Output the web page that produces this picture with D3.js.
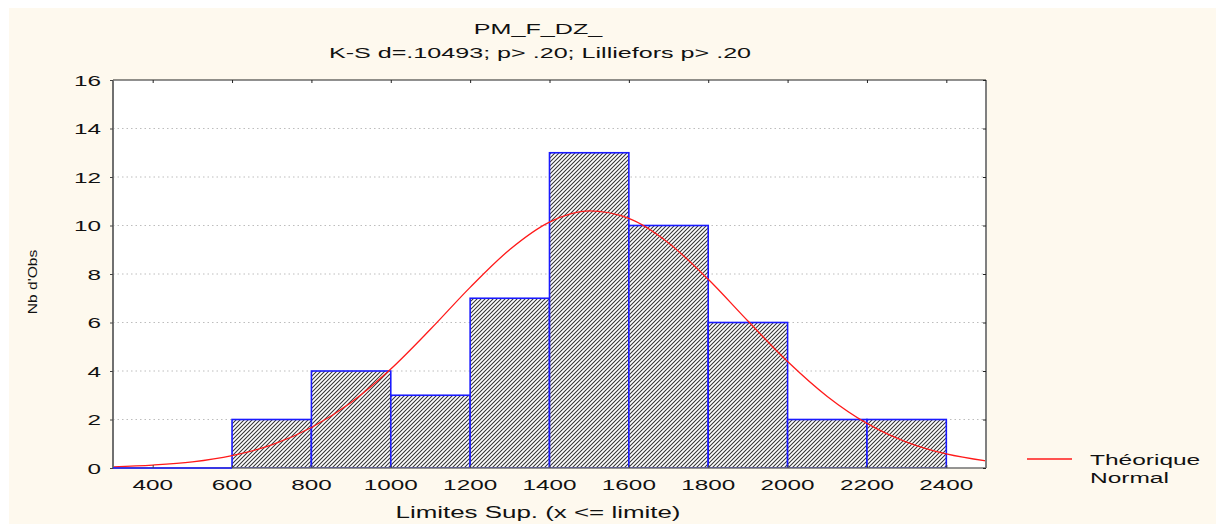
<!DOCTYPE html>
<html><head><meta charset="utf-8">
<script src="https://cdn.jsdelivr.net/npm/d3@7"></script>
<style>body{margin:0;background:#fff}svg{display:block}text{font-family:"Liberation Sans",Arial,sans-serif;fill:#111}</style>
</head><body><svg id="c" width="1216" height="524"></svg>
<script>
// ---- data ----
const binLower = [200, 400, 600, 800, 1000, 1200, 1400, 1600, 1800, 2000, 2200];
const binUpper = [400, 600, 800, 1000, 1200, 1400, 1600, 1800, 2000, 2200, 2400];
const counts   = [0, 0, 2, 4, 3, 7, 13, 10, 6, 2, 2];
const xTicks = [400, 600, 800, 1000, 1200, 1400, 1600, 1800, 2000, 2200, 2400];
const yTicks = [0, 2, 4, 6, 8, 10, 12, 14, 16];
const curveX = [300,400,500,600,700,800,900,1000,1100,1200,1300,1400,1500,1600,1700,1800,1900,2000,2100,2200,2300,2400,2500];
const curveY = [0.05,0.12,0.25,0.51,0.95,1.67,2.70,4.08,5.72,7.45,9.01,10.14,10.6,10.29,9.28,7.78,6.06,4.39,2.95,1.84,1.07,0.58,0.29];
const title = "PM_F_DZ_";
const subtitle = "K-S d=.10493; p> .20; Lilliefors p> .20";
const xLabel = "Limites Sup. (x <= limite)";
const yLabel = "Nb d'Obs";
const legendLabel = ["Théorique", "Normal"];

const svg = d3.select("#c");
const L = 113, R = 986, T = 80, B = 468;
const SX = 1.62;
const x = d3.scaleLinear().domain([300, 2500]).range([L, R]);
const y = d3.scaleLinear().domain([0, 16]).range([B, T]);

svg.append("rect").attr("x", 9).attr("y", 8).attr("width", 1207).attr("height", 516).attr("fill", "#fef9ee");

const defs = svg.append("defs");
const pat = defs.append("pattern").attr("id", "hatch").attr("patternUnits", "userSpaceOnUse")
  .attr("width", 4).attr("height", 4);
pat.append("rect").attr("width", 4).attr("height", 4).attr("fill", "#fff");
pat.append("path").attr("d", "M-1,1 L1,-1 M0,4 L4,0 M3,5 L5,3").attr("stroke", "#333").attr("stroke-width", 1.05);
defs.append("clipPath").attr("id", "clip").append("rect").attr("x", L).attr("y", T).attr("width", R - L).attr("height", B - T);

svg.append("rect").attr("x", L).attr("y", T).attr("width", R - L).attr("height", B - T).attr("fill", "#fff");

// gridlines
svg.append("g").selectAll("line").data(yTicks.filter(d => d > 0 && d < 16)).join("line")
  .attr("x1", L).attr("x2", R).attr("y1", d => y(d)).attr("y2", d => y(d))
  .attr("stroke", "#bdbdbd").attr("stroke-dasharray", "1.5,3");

// bars
const bars = binLower.map((lo, i) => ({lo, hi: binUpper[i], n: counts[i]}));
svg.append("g").attr("clip-path", "url(#clip)").selectAll("rect").data(bars).join("rect")
  .attr("x", d => x(d.lo)).attr("width", d => x(d.hi) - x(d.lo))
  .attr("y", d => y(d.n)).attr("height", d => y(0) - y(d.n))
  .attr("fill", "url(#hatch)").attr("stroke", "#1a1aff").attr("stroke-width", 1.6);

// curve
const line = d3.line().x((d, i) => x(curveX[i])).y(d => y(d)).curve(d3.curveMonotoneX);
svg.append("path").attr("d", line(curveY)).attr("fill", "none").attr("stroke", "#ff1a1a").attr("stroke-width", 1.3)
  .attr("clip-path", "url(#clip)");

// frame
svg.append("line").attr("x1", L).attr("x2", R).attr("y1", T).attr("y2", T).attr("stroke", "#222").attr("stroke-width", 1);
svg.append("line").attr("x1", R).attr("x2", R).attr("y1", T).attr("y2", B).attr("stroke", "#808080").attr("stroke-width", 2);
svg.append("line").attr("x1", L).attr("x2", L).attr("y1", T).attr("y2", B + 1).attr("stroke", "#707070").attr("stroke-width", 2);
svg.append("line").attr("x1", L).attr("x2", R).attr("y1", B).attr("y2", B).attr("stroke", "#707070").attr("stroke-width", 1.5);
svg.append("line").attr("x1", L).attr("x2", x(600)).attr("y1", B).attr("y2", B).attr("stroke", "#1a1aff").attr("stroke-width", 1.5);

// ticks via axes
svg.append("g").attr("transform", `translate(0,${T})`)
  .call(d3.axisBottom(x).tickValues(xTicks).tickSize(3).tickFormat(""))
  .call(g => g.select(".domain").remove()).selectAll("line").attr("stroke", "#222");
svg.append("g").attr("transform", `translate(0,${B})`)
  .call(d3.axisTop(x).tickValues(xTicks).tickSize(3).tickFormat(""))
  .call(g => g.select(".domain").remove()).selectAll("line").attr("stroke", "#444");
svg.append("g").attr("transform", `translate(${L},0)`)
  .call(d3.axisLeft(y).tickValues(yTicks).tickSize(3).tickFormat(""))
  .call(g => g.select(".domain").remove()).selectAll("line").attr("stroke", "#444");
svg.append("g").attr("transform", `translate(${R},0)`)
  .call(d3.axisLeft(y).tickValues(yTicks).tickSize(3).tickFormat(""))
  .call(g => g.select(".domain").remove()).selectAll("line").attr("stroke", "#222");

// tick labels (stretched text)
function stext(px, py, str, size, anchor, sx) {
  return svg.append("text").attr("transform", `translate(${px},${py}) scale(${sx || SX},1)`)
    .attr("text-anchor", anchor).style("font-size", size + "px").text(str);
}
xTicks.forEach(v => stext(x(v), 490, String(v), 15, "middle"));
yTicks.forEach(v => stext(101, y(v) + 5.5, String(v), 15, "end"));

stext(538, 34, title, 15.5, "middle");
stext(540, 58, subtitle, 15.5, "middle");
stext(538, 518, xLabel, 16, "middle");
svg.append("text").attr("transform", `translate(37,282) rotate(-90) scale(1.2,1)`)
  .attr("text-anchor", "middle").style("font-size", "13px").text(yLabel);

// legend
svg.append("line").attr("x1", 1027).attr("x2", 1072).attr("y1", 459).attr("y2", 459).attr("stroke", "#ff1a1a").attr("stroke-width", 1.3);
stext(1090, 465, legendLabel[0], 15.5, "start", 1.58);
stext(1090, 483, legendLabel[1], 15.5, "start", 1.58);
</script></body></html>
